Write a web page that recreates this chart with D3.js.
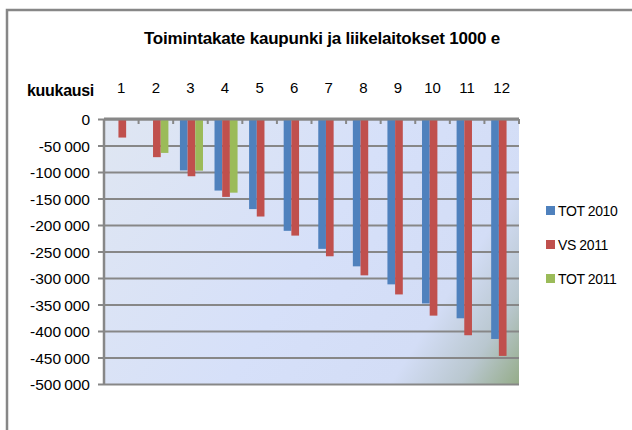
<!DOCTYPE html>
<html>
<head>
<meta charset="utf-8">
<script src="https://cdn.jsdelivr.net/npm/d3@7"></script>
<style>
    body { margin: 0; background: #fff; }
    text { font-family: "Liberation Sans", Arial, sans-serif; fill: #000; }
</style>
</head>
<body>
<div id="chart"></div>
<script>
// months on the category axis
var months = [1, 2, 3, 4, 5, 6, 7, 8, 9, 10, 11, 12];
// series values, 1000 e (null = no bar)
var tot2010 = [null, null, -97000, -135000, -170000, -211000, -245000, -278000, -312000, -348000, -376000, -415000];
var vs2011 = [-35000, -72000, -108000, -147000, -184000, -220000, -259000, -295000, -331000, -371000, -408000, -447000];
var tot2011 = [null, -64000, -97500, -139000, null, null, null, null, null, null, null, null];
var seriesNames = ["TOT 2010", "VS 2011", "TOT 2011"];
var seriesColors = ["#4f81bd", "#c0504d", "#9bbb59"];
var yTicks = [0, -50000, -100000, -150000, -200000, -250000, -300000, -350000, -400000, -450000, -500000];

var w = 632, h = 430;
// plot area (note: "top" is taken by window.top)
var pLeft = 104, pRight = 519, pTop = 119, pBottom = 384;

var svg = d3.select("#chart")
    .append("svg")
    .attr("width", w)
    .attr("height", h);

// chart frame
svg.append("rect")
    .attr("x", 7)
    .attr("y", 10)
    .attr("width", 660)
    .attr("height", 460)
    .attr("fill", "#fff")
    .attr("stroke", "#878787")
    .attr("stroke-width", 2.5);

var defs = svg.append("defs");
var grad = defs.append("linearGradient")
    .attr("id", "plotbg")
    .attr("gradientUnits", "userSpaceOnUse")
    .attr("x1", pLeft).attr("y1", pTop)
    .attr("x2", pRight).attr("y2", pBottom);
[["0", "#dfe6f2"], ["0.5", "#d6e0f9"], ["0.78", "#d3ddf6"], ["0.9", "#b9c7cf"], ["1", "#95ac89"]].forEach(function (s) {
    grad.append("stop").attr("offset", s[0]).attr("stop-color", s[1]);
});

var yscale = d3.scaleLinear()
    .domain([-500000, 0])
    .range([pBottom, pTop]);

var xscale = d3.scaleBand()
    .domain(months)
    .range([pLeft, pRight]);

var barW = xscale.bandwidth() / 4.5;
var groupOff = (xscale.bandwidth() - barW * 3) / 2 + 1;

svg.append("rect")
    .attr("x", pLeft)
    .attr("y", pTop)
    .attr("width", pRight - pLeft)
    .attr("height", pBottom - pTop)
    .attr("fill", "url(#plotbg)");

var loc = d3.formatLocale({ decimal: ",", thousands: "\u2009", grouping: [3], currency: ["", " e"], minus: "-" });
var fmt = loc.format(",d");

// gridlines + y axis
var yaxis = d3.axisLeft(yscale)
    .tickValues(yTicks)
    .tickSize(pRight - pLeft + 6)
    .tickSizeOuter(0)
    .tickFormat(fmt);

var gy = svg.append("g")
    .attr("transform", "translate(" + pRight + ",0)")
    .call(yaxis);
gy.select(".domain").remove();
gy.selectAll("line")
    .attr("stroke", "#878787")
    .attr("stroke-width", 2.2);
gy.selectAll("text")
    .attr("x", -(pRight - pLeft) - 14)
    .attr("dy", "0.36em")
    .style("font-size", "15.5px")
    .style("font-family", "Liberation Sans, Arial, sans-serif");

// left axis line
svg.append("line")
    .attr("x1", pLeft).attr("x2", pLeft)
    .attr("y1", pTop).attr("y2", pBottom)
    .attr("stroke", "#878787")
    .attr("stroke-width", 2.5);

// bars
var allSeries = [tot2010, vs2011, tot2011];
allSeries.forEach(function (vals, s) {
    svg.append("g")
        .selectAll("rect")
        .data(months.map(function (m, i) { return { m: m, v: vals[i] }; }).filter(function (d) { return d.v != null; }))
        .enter().append("rect")
        .attr("x", function (d) { return xscale(d.m) + groupOff + s * barW; })
        .attr("y", yscale(0))
        .attr("width", barW)
        .attr("height", function (d) { return yscale(d.v) - yscale(0); })
        .attr("fill", seriesColors[s]);
});

// category axis along the zero line, ticks between months
var xaxisLine = svg.append("g");
xaxisLine.append("line")
    .attr("x1", pLeft).attr("x2", pRight)
    .attr("y1", yscale(0)).attr("y2", yscale(0))
    .attr("stroke", "#878787")
    .attr("stroke-width", 2.8);
xaxisLine.selectAll(".tk")
    .data(months.concat([13]))
    .enter().append("line")
    .attr("class", "tk")
    .attr("x1", function (d) { return d == 13 ? pRight : xscale(d); })
    .attr("x2", function (d) { return d == 13 ? pRight : xscale(d); })
    .attr("y1", yscale(0))
    .attr("y2", yscale(0) + 5)
    .attr("stroke", "#878787")
    .attr("stroke-width", 2);

svg.append("g")
    .selectAll("text")
    .data(months)
    .enter().append("text")
    .attr("x", function (d) { return xscale(d) + xscale.bandwidth() / 2; })
    .attr("y", 93)
    .attr("text-anchor", "middle")
    .style("font-size", "15px")
    .text(function (d) { return d; });

svg.append("text")
    .attr("x", 27)
    .attr("y", 96)
    .style("font-size", "16px")
    .style("font-weight", "bold")
    .style("letter-spacing", "-0.3px")
    .text("kuukausi");

// title
svg.append("text")
    .attr("x", 322)
    .attr("y", 44)
    .attr("text-anchor", "middle")
    .style("font-size", "17px")
    .style("font-weight", "bold")
    .style("letter-spacing", "-0.2px")
    .text("Toimintakate kaupunki ja liikelaitokset 1000 e");

// legend
var legend = svg.append("g")
    .selectAll("g")
    .data(seriesNames)
    .enter().append("g")
    .attr("transform", function (d, i) { return "translate(546," + (211 + i * 34) + ")"; });
legend.append("rect")
    .attr("x", 0)
    .attr("y", -5)
    .attr("width", 9)
    .attr("height", 9)
    .attr("fill", function (d, i) { return seriesColors[i]; });
legend.append("text")
    .attr("x", 12)
    .attr("y", 0)
    .attr("dy", "0.35em")
    .style("font-size", "14px")
    .style("letter-spacing", "-0.4px")
    .text(function (d) { return d; });
</script>
</body>
</html>
